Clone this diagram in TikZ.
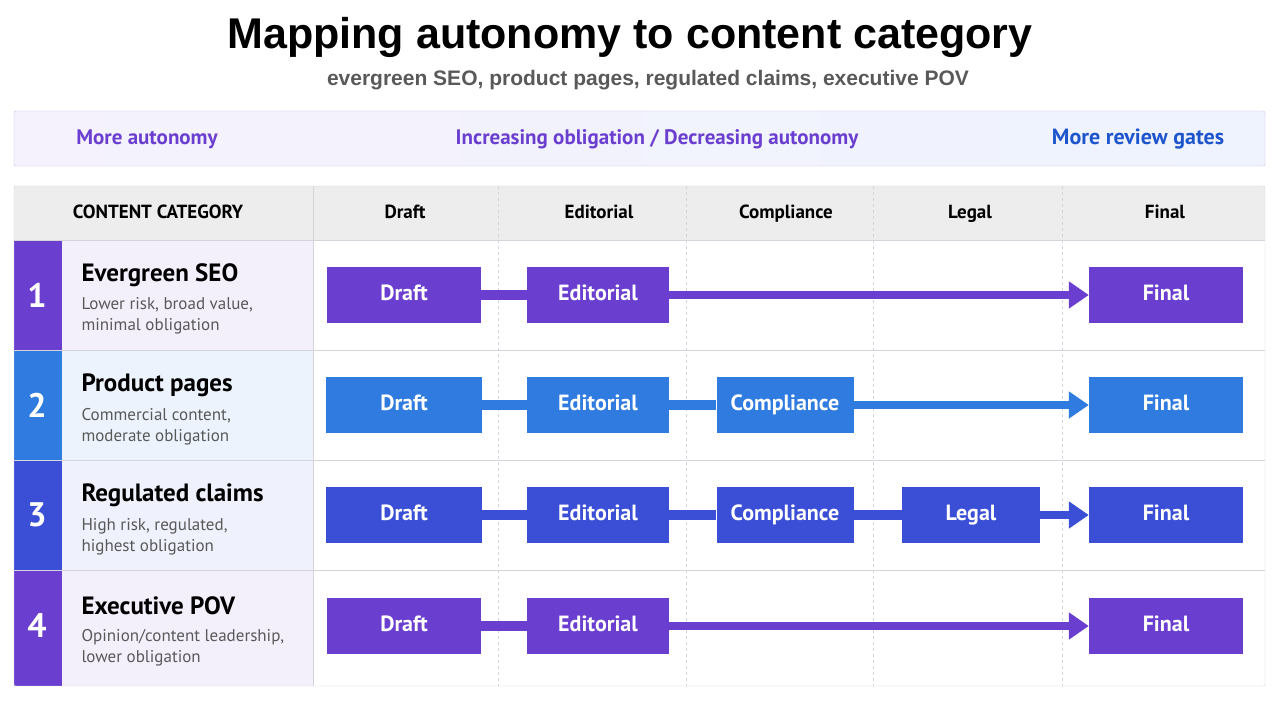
\documentclass[tikz,border=0pt]{standalone}
\usepackage{fontspec}
\setmainfont{PT Sans}
\newfontfamily\titlefont{Liberation Sans}
\usetikzlibrary{arrows.meta}
\definecolor{cpur}{HTML}{6A3FD0}
\definecolor{cblu}{HTML}{2F7BE0}
\definecolor{cind}{HTML}{3A4FD6}
\definecolor{gridc}{HTML}{D4D4DA}
\definecolor{bl}{HTML}{F5F2FD}
\definecolor{br}{HTML}{EEF3FD}
\begin{document}
\begin{tikzpicture}[x=1pt,y=-1pt,
  stage/.style={minimum height=56pt,inner sep=0pt,text=white,text height=15pt,text depth=4pt,font=\fontsize{22}{24}\selectfont\bfseries},
  bar/.style={line width=10pt},
  arr/.style={line width=8pt,-{Triangle[length=20pt,width=26pt]}},
  num/.style={text=white,font=\fontsize{34}{36}\selectfont\bfseries},
  cat/.style={anchor=west,font=\fontsize{25}{28}\selectfont\bfseries},
  sub/.style={anchor=north west,align=left,text=black!65,font=\fontsize{17}{21}\selectfont},
  hdr/.style={text height=14pt,text depth=4pt,font=\fontsize{19}{22}\selectfont\bfseries}]
\useasboundingbox (0,0) rectangle (1280,720);
\fill[white] (0,0) rectangle (1280,720);
\node (title) at (630,37) {\titlefont\fontsize{43}{48}\selectfont\bfseries Mapping autonomy to content category};
\node[text=black!65] (subtitle) at (648,80) {\titlefont\fontsize{21}{24}\selectfont\bfseries evergreen SEO, product pages, regulated claims, executive POV};
% banner
\shade[left color=bl,right color=br,draw=cpur!35,rounded corners=2pt] (14,111) rectangle (1265,166);
\node[text=cpur,font=\fontsize{21}{24}\selectfont\bfseries] (b1) at (147,139) {More autonomy};
\node[text=cpur,font=\fontsize{21}{24}\selectfont\bfseries] (b2) at (657,139) {Increasing obligation / Decreasing autonomy};
\node[text={rgb,255:red,30;green,85;blue,205},font=\fontsize{22}{24}\selectfont\bfseries] (b3) at (1138,139) {More review gates};
% table
\fill[black!7] (14,186) rectangle (1265,240);
\fill[cpur!8] (62,240) rectangle (313,350);
\fill[cblu!9] (62,350) rectangle (313,460);
\fill[cind!8] (62,460) rectangle (313,570);
\fill[cpur!8] (62,570) rectangle (313,686);
\fill[cpur] (14,240) rectangle (62,350);
\fill[cblu] (14,350) rectangle (62,460);
\fill[cind] (14,460) rectangle (62,570);
\fill[cpur] (14,570) rectangle (62,686);
\foreach \x in {498,686,873,1062} \draw[gridc,dashed] (\x,186) -- (\x,686);
\foreach \y in {240,350,460,570} \draw[gridc] (14,\y) -- (1265,\y);
\draw[gridc] (313,186) -- (313,686);
\draw[gridc,rounded corners=2pt] (14,186) rectangle (1265,686);
\node[hdr] (h0) at (158,213) {CONTENT CATEGORY};
\node[hdr] (h1) at (405,213) {Draft};
\node[hdr] (h2) at (599,213) {Editorial};
\node[hdr] (h3) at (786,213) {Compliance};
\node[hdr] (h4) at (970,213) {Legal};
\node[hdr] (h5) at (1165,213) {Final};
% numbers and categories
\node[num] (n1) at (37,295) {1};
\node[num] (n2) at (37,405) {2};
\node[num] (n3) at (37,515) {3};
\node[num] (n4) at (37,626) {4};
\node[cat] (c1) at (78,275) {Evergreen SEO};
\node[sub] (s1) at (78,294) {Lower risk, broad value,\\minimal obligation};
\node[cat] (c2) at (78,385) {Product pages};
\node[sub] (s2) at (78,405) {Commercial content,\\moderate obligation};
\node[cat] (c3) at (78,495) {Regulated claims};
\node[sub] (s3) at (78,515) {High risk, regulated,\\highest obligation};
\node[cat] (c4) at (78,606) {Executive POV};
\node[sub] (s4) at (78,626) {Opinion/content leadership,\\lower obligation};
% row 1
\node[stage,fill=cpur,minimum width=154pt] (d1) at (404,295) {Draft};
\node[stage,fill=cpur,minimum width=142pt] (e1) at (598,295) {Editorial};
\node[stage,fill=cpur,minimum width=154pt] (f1) at (1166,295) {Final};
\draw[bar,cpur] (d1) -- (e1);
\draw[arr,cpur] (e1) -- (f1);
% row 2
\node[stage,fill=cblu,minimum width=156pt] (d2) at (404,405) {Draft};
\node[stage,fill=cblu,minimum width=142pt] (e2) at (598,405) {Editorial};
\node[stage,fill=cblu,minimum width=137pt] (k2) at (785,405) {Compliance};
\node[stage,fill=cblu,minimum width=154pt] (f2) at (1166,405) {Final};
\draw[bar,cblu] (d2) -- (e2);
\draw[bar,cblu] (e2) -- (k2);
\draw[arr,cblu] (k2) -- (f2);
% row 3
\node[stage,fill=cind,minimum width=156pt] (d3) at (404,515) {Draft};
\node[stage,fill=cind,minimum width=142pt] (e3) at (598,515) {Editorial};
\node[stage,fill=cind,minimum width=137pt] (k3) at (785,515) {Compliance};
\node[stage,fill=cind,minimum width=138pt] (l3) at (971,515) {Legal};
\node[stage,fill=cind,minimum width=154pt] (f3) at (1166,515) {Final};
\draw[bar,cind] (d3) -- (e3);
\draw[bar,cind] (e3) -- (k3);
\draw[bar,cind] (k3) -- (l3);
\draw[arr,cind] (l3) -- (f3);
% row 4
\node[stage,fill=cpur,minimum width=154pt] (d4) at (404,626) {Draft};
\node[stage,fill=cpur,minimum width=142pt] (e4) at (598,626) {Editorial};
\node[stage,fill=cpur,minimum width=154pt] (f4) at (1166,626) {Final};
\draw[bar,cpur] (d4) -- (e4);
\draw[arr,cpur] (e4) -- (f4);
\end{tikzpicture}
\end{document}
